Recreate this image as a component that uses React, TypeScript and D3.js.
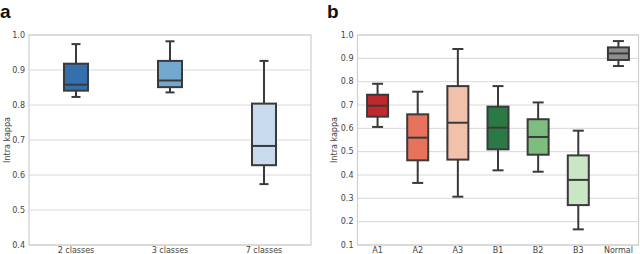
import React, { useEffect, useRef } from 'react'
import * as d3 from 'd3'

// panel a
const classesA = ['2 classes', '3 classes', '7 classes']
const lowA = [0.823, 0.836, 0.574]
const q1A = [0.841, 0.851, 0.628]
const medA = [0.858, 0.870, 0.683]
const q3A = [0.918, 0.926, 0.804]
const highA = [0.974, 0.982, 0.926]
const colorsA = ['#3370ac', '#73a9cf', '#c8dbee']
const ticksA = [0.4, 0.5, 0.6, 0.7, 0.8, 0.9, 1.0]

// panel b
const classesB = ['A1', 'A2', 'A3', 'B1', 'B2', 'B3', 'Normal']
const lowB = [0.606, 0.366, 0.307, 0.42, 0.414, 0.167, 0.867]
const q1B = [0.650, 0.463, 0.466, 0.51, 0.487, 0.271, 0.893]
const medB = [0.697, 0.560, 0.624, 0.603, 0.563, 0.379, 0.921]
const q3B = [0.744, 0.660, 0.781, 0.693, 0.639, 0.484, 0.947]
const highB = [0.791, 0.757, 0.940, 0.781, 0.711, 0.590, 0.974]
const colorsB = ['#c0282d', '#e8735d', '#f2c1ab', '#2b7a45', '#7dbd7f', '#cbe6c5', '#8f8f8f']
const ticksB = [0.1, 0.2, 0.3, 0.4, 0.5, 0.6, 0.7, 0.8, 0.9, 1.0]

const App = () => {
  const ref = useRef<SVGSVGElement>(null)

  useEffect(() => {
    const svg = d3.select(ref.current)
    svg.selectAll('*').remove()

    const drawPanel = (opts: any) => {
      const { left, right, top, bottom, domain, ticks, cats, low, q1, med, q3, high, colors, boxW, capW, letter, letterX, labelX } = opts
      const x = d3.scaleBand().domain(cats).range([left, right])
      const y = d3.scaleLinear().domain(domain).range([bottom, top])
      const g = svg.append('g')

      // grid
      g.selectAll('.grid').data(ticks).enter().append('line')
        .attr('x1', left).attr('x2', right)
        .attr('y1', (d: number) => y(d)).attr('y2', (d: number) => y(d))
        .attr('stroke', '#d8d8d8').attr('stroke-width', 1)

      g.append('rect')
        .attr('x', left).attr('y', top)
        .attr('width', right - left).attr('height', bottom - top)
        .attr('fill', 'none').attr('stroke', '#cfcfcf').attr('stroke-width', 1.2)

      // tick labels
      g.selectAll('.yt').data(ticks).enter().append('text')
        .attr('x', left - 4).attr('y', (d: number) => y(d))
        .attr('dy', '0.35em').attr('text-anchor', 'end')
        .attr('font-family', 'DejaVu Sans').attr('font-size', 8)
        .attr('fill', '#444').text((d: number) => d3.format('.1f')(d))

      g.selectAll('.xt').data(cats).enter().append('text')
        .attr('x', (d: string) => x(d)! + x.bandwidth() / 2).attr('y', bottom + 8)
        .attr('text-anchor', 'middle')
        .attr('font-family', 'DejaVu Sans').attr('font-size', 8)
        .attr('fill', '#444').text((d: string) => d)

      g.append('text')
        .attr('transform', `translate(${labelX},${(top + bottom) / 2}) rotate(-90)`)
        .attr('dy', '0.35em').attr('text-anchor', 'middle')
        .attr('font-family', 'DejaVu Sans').attr('font-size', 8)
        .attr('fill', '#444').text('Intra kappa')

      g.append('text')
        .attr('x', letterX).attr('y', 18)
        .attr('font-family', 'Liberation Sans').attr('font-weight', 'bold')
        .attr('font-size', 19).attr('fill', '#111').text(letter)

      const edge = '#3a3a3a'
      const sw = 2
      cats.forEach((c: string, i: number) => {
        const cx = x(c)! + x.bandwidth() / 2
        // whiskers
        g.append('line').attr('x1', cx).attr('x2', cx)
          .attr('y1', y(high[i])).attr('y2', y(q3[i]))
          .attr('stroke', edge).attr('stroke-width', sw)
        g.append('line').attr('x1', cx).attr('x2', cx)
          .attr('y1', y(q1[i])).attr('y2', y(low[i]))
          .attr('stroke', edge).attr('stroke-width', sw)
        ;[high[i], low[i]].forEach((v: number) => {
          g.append('line').attr('x1', cx - capW / 2).attr('x2', cx + capW / 2)
            .attr('y1', y(v)).attr('y2', y(v))
            .attr('stroke', edge).attr('stroke-width', sw)
        })
        g.append('rect')
          .attr('x', cx - boxW / 2).attr('y', y(q3[i]))
          .attr('width', boxW).attr('height', y(q1[i]) - y(q3[i]))
          .attr('fill', colors[i]).attr('stroke', edge).attr('stroke-width', sw)
        g.append('line').attr('x1', cx - boxW / 2).attr('x2', cx + boxW / 2)
          .attr('y1', y(med[i])).attr('y2', y(med[i]))
          .attr('stroke', edge).attr('stroke-width', sw)
      })
    }

    drawPanel({
      left: 29, right: 311, top: 35, bottom: 245, domain: [0.4, 1.0], ticks: ticksA,
      cats: classesA, low: lowA, q1: q1A, med: medA, q3: q3A, high: highA, colors: colorsA,
      boxW: 24, capW: 9, letter: 'a', letterX: 0, labelX: 7
    })
    drawPanel({
      left: 357.5, right: 638.5, top: 35, bottom: 245, domain: [0.1, 1.0], ticks: ticksB,
      cats: classesB, low: lowB, q1: q1B, med: medB, q3: q3B, high: highB, colors: colorsB,
      boxW: 21, capW: 11, letter: 'b', letterX: 327, labelX: 334
    })
  }, [])

  return (
    <svg ref={ref} width={640} height={254}
      style={{ position: 'absolute', left: 0, top: 0, background: '#fff' }} />
  )
}

export default App
